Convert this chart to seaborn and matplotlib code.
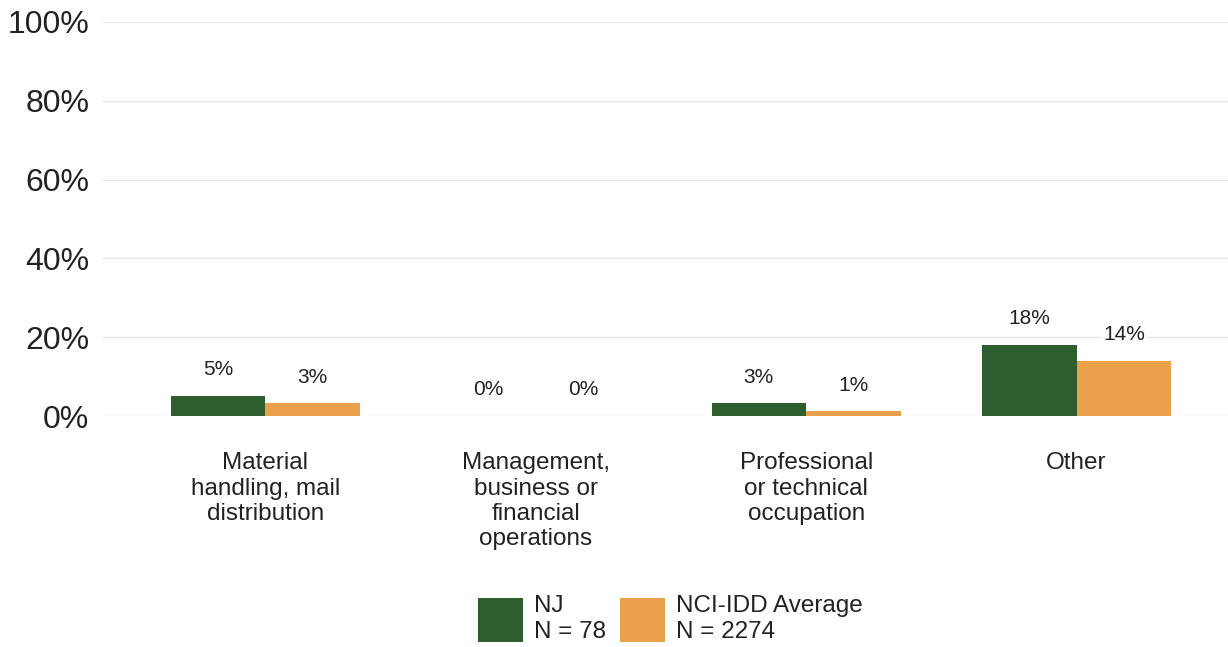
import pandas as pd
import seaborn as sns
import matplotlib.pyplot as plt

# Datos
categorias = ['Material\nhandling, mail\ndistribution',
              'Management,\nbusiness or\nfinancial\noperations',
              'Professional\nor technical\noccupation',
              'Other']
nj = [5.2, 0, 3.2, 18]
nci = [3.2, 0, 1.2, 14]
grupos = ['NJ\nN = 78', 'NCI-IDD Average\nN = 2274']
colores = ['#2E5E30', '#EBA04B']

df = pd.DataFrame({
    'Categoria': categorias * 2,
    'Grupo': [grupos[0]] * 4 + [grupos[1]] * 4,
    'Valor': nj + nci,
})

sns.set_style('white')
plt.rcParams['font.family'] = ['Liberation Sans', 'DejaVu Sans']

fig = plt.figure(figsize=(12.28, 6.47), dpi=100)
ax = fig.add_axes([0.084, 0.357, 0.916, 0.609])

sns.barplot(data=df, x='Categoria', y='Valor', hue='Grupo', hue_order=grupos,
            palette=colores, width=0.7, ax=ax, saturation=1, legend=True,
            linewidth=0)

for cont, vals in zip(ax.containers, [nj, nci]):
    ax.bar_label(cont, labels=[f'{round(v)}%' for v in vals], padding=12,
                 fontsize=15, color='#222222',
                 bbox=dict(facecolor='white', edgecolor='none', pad=1))

ax.set_ylim(0, 100)
ax.set_xlim(-0.6, 3.56)
ax.set_yticks(range(0, 101, 20))
ax.set_yticklabels([f'{v}%' for v in range(0, 101, 20)], fontsize=23, color='#222222')
ax.tick_params(axis='x', labelsize=17.5, colors='#222222', length=0, pad=26)
ax.tick_params(axis='y', length=0, pad=10)
ax.set_xlabel('')
ax.set_ylabel('')
ax.grid(axis='y', color='#e6e6e6', linewidth=1)
ax.set_axisbelow(True)
sns.despine(ax=ax, left=True, bottom=True)

handles, labels = ax.get_legend_handles_labels()
ax.legend_.remove()
fig.legend(handles, labels, loc='center', bbox_to_anchor=(0.546, 0.043), ncol=2,
           frameon=False, fontsize=17.5, handlelength=1.85, handleheight=2.4,
           handletextpad=0.45, columnspacing=0.6, labelcolor='#222222')

fig.savefig('out.png', dpi=100)
